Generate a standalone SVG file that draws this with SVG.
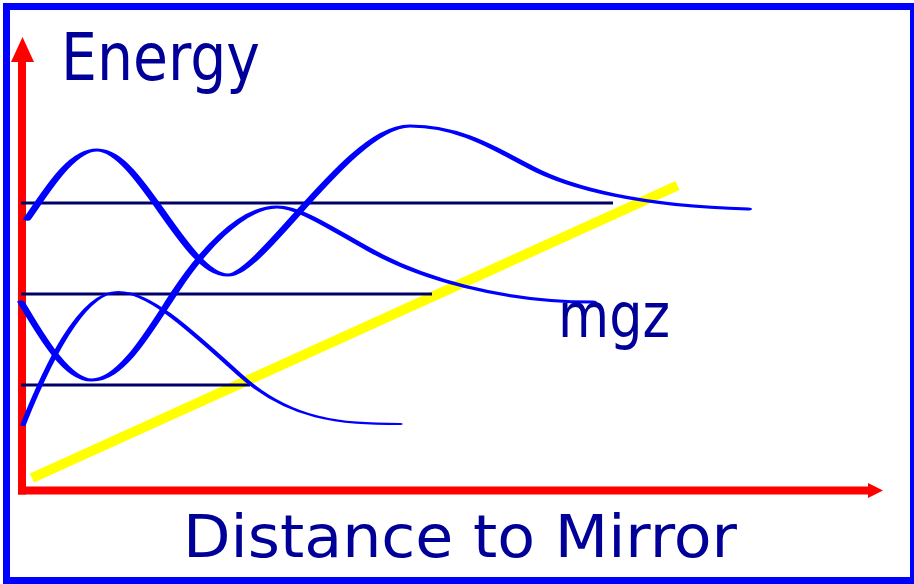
<svg xmlns="http://www.w3.org/2000/svg" width="914" height="584" viewBox="0 0 914 584">
  <style>
    .frame { fill: #ffffff; stroke: #0000ff; stroke-width: 7; }
    .axis { stroke: #ff0000; stroke-width: 8; fill: none; }
    .head { fill: #ff0000; }
    .level { stroke: #000066; stroke-width: 3; fill: none; }
    .potential { stroke: #ffff00; stroke-width: 10; fill: none; }
    .wave { stroke: #0000ff; fill: none; stroke-linecap: round; stroke-linejoin: round; }
    .label { fill: #000099; font-family: "DejaVu Sans", "Liberation Sans", sans-serif; }
  </style>
  <rect id="frame" class="frame" x="6.5" y="6.5" width="907" height="574"/>

  <g id="potential">
    <line class="potential" x1="32" y1="478" x2="677.5" y2="185.5"/>
  </g>

  <g id="axes">
    <line class="axis" x1="22" y1="494.5" x2="22" y2="60"/>
    <polygon class="head" points="22.5,37 11,62 34,62"/>
    <line class="axis" x1="18" y1="490.5" x2="869" y2="490.5"/>
    <polygon class="head" points="883,490.5 868,483 868,498"/>
  </g>

  <g id="levels">
    <line class="level" x1="21" y1="203" x2="613" y2="203"/>
    <line class="level" x1="21" y1="294" x2="432" y2="294"/>
    <line class="level" x1="21" y1="385" x2="250" y2="385"/>
  </g>

  <g id="waves" transform="scale(2.5,1)">
    <path class="wave" stroke-width="3.2" d="M10.8,219 C18,194 28,150 38.8,150 C56,150 74,275 91.2,275 C104.8,275 140,126 164,126 C182,126 194,143 212,167 C228,188.3 256,206 299.2,209"/>
    <path class="wave" stroke-width="3" d="M8.4,302 C15.2,330 26,380 36.8,380 C48.8,380 60,330 70,292 C80,254 96,207 110.8,207 C120,207 132,228 148,250 C168,278 200,302 237.2,302"/>
    <path class="wave" stroke-width="2.2" d="M9.2,425 C18,370 32,292 47.2,292 C60,292 76,330 96,375 C116,420 136,424 160,424"/>
  </g>

  <g id="labels">
    <text class="label" x="61" y="80" font-size="66" textLength="199" lengthAdjust="spacingAndGlyphs">Energy</text>
    <text class="label" x="558" y="337" font-size="62" textLength="112" lengthAdjust="spacingAndGlyphs">mgz</text>
    <text class="label" x="183" y="557" font-size="58" textLength="554" lengthAdjust="spacingAndGlyphs">Distance to Mirror</text>
  </g>
</svg>
